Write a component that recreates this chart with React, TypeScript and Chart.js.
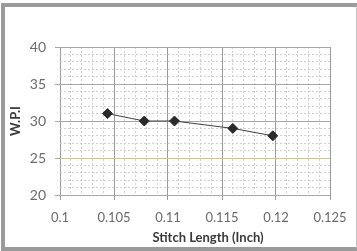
import React, { useEffect, useRef } from "react";
import { Chart, registerables } from "chart.js";

Chart.register(...registerables);

const stitchLength = [0.1044, 0.1078, 0.1106, 0.116, 0.1197];
const wpi = [31, 30, 30, 29, 28];
const X_MIN = 0.1;
const X_MAX = 0.125;
const Y_MIN = 20;
const Y_MAX = 40;
const X_TITLE = "Stitch Length (Inch)";
const Y_TITLE = "W.P.I";

const FONT = "Lato, 'Open Sans', sans-serif";

const isMajorX = (v: number) => Math.round(v * 1000) % 5 === 0;
const isMajorY = (v: number) => Math.round(v) % 5 === 0;

const xTitlePlugin = {
  id: "xTitle",
  afterDraw(chart: any) {
    const { ctx, chartArea } = chart;
    ctx.save();
    ctx.fillStyle = "#3a3a3a";
    ctx.font = `bold 13px ${FONT}`;
    ctx.textAlign = "center";
    ctx.textBaseline = "middle";
    ctx.fillText(X_TITLE, (chartArea.left + chartArea.right) / 2 + 13, chartArea.bottom + 43);
    ctx.restore();
  },
};

export default function App() {
  const ref = useRef<HTMLCanvasElement | null>(null);
  useEffect(() => {
    if (!ref.current) return;
    const chart = new Chart(ref.current, {
      type: "line",
      data: {
        datasets: [
          {
            data: stitchLength.map((x, i) => ({ x, y: wpi[i] })),
            borderColor: "#404040",
            borderWidth: 1,
            backgroundColor: "#2a2a2a",
            pointBackgroundColor: "#2a2a2a",
            pointBorderColor: "#2a2a2a",
            pointStyle: "rectRot",
            pointRadius: 5,
            tension: 0,
          },
        ],
      },
      options: {
        animation: false,
        responsive: false,
        maintainAspectRatio: false,
        layout: { padding: { top: 47, right: 27, left: 0, bottom: 0 } },
        plugins: { legend: { display: false }, tooltip: { enabled: false } },
        scales: {
          x: {
            type: "linear",
            min: X_MIN,
            max: X_MAX,
            afterFit: (s: any) => {
              s.height = 56;
            },
            ticks: {
              stepSize: 0.001,
              autoSkip: false,
              maxRotation: 0,
              padding: 10,
              color: "#6a6a6a",
              font: { family: FONT, size: 13 },
              callback: (v: any) => (isMajorX(v) ? String(+Number(v).toFixed(3)) : ""),
            },
            grid: {
              color: (c: any) => (isMajorX(c.tick.value) ? "#9a9a9a" : "#cfcfcf"),
              tickColor: (c: any) => (isMajorX(c.tick.value) ? "#9a9a9a" : "rgba(0,0,0,0)"),
              tickLength: 5,
              lineWidth: 1,
            },
            border: {
              display: false,
              dash: (c: any) => (c.tick && isMajorX(c.tick.value) ? [] : [2, 2]),
            },
          },
          y: {
            min: Y_MIN,
            max: Y_MAX,
            afterFit: (s: any) => {
              s.width = 60;
            },
            ticks: {
              stepSize: 1,
              autoSkip: false,
              padding: 9,
              color: "#6a6a6a",
              font: { family: FONT, size: 14 },
              callback: (v: any) => (isMajorY(v) ? String(Math.round(v)) : ""),
            },
            grid: {
              color: (c: any) =>
                Math.round(c.tick.value) === 25
                  ? "#cdc4a2"
                  : isMajorY(c.tick.value)
                  ? "#a8a8a8"
                  : "#cfcfcf",
              tickColor: (c: any) => (isMajorY(c.tick.value) ? "#a8a8a8" : "rgba(0,0,0,0)"),
              tickLength: 5,
              lineWidth: 1,
            },
            border: {
              display: false,
              dash: (c: any) => (c.tick && isMajorY(c.tick.value) ? [] : [2, 2]),
            },
            title: {
              display: true,
              text: Y_TITLE,
              color: "#3a3a3a",
              font: { family: FONT, size: 13, weight: "bold" },
              padding: { top: 8, bottom: 0 },
            },
          },
        },
      },
      plugins: [xTitlePlugin],
    });
    return () => chart.destroy();
  }, []);

  return (
    <div style={{ position: "absolute", left: 0, top: 0, width: 357, height: 251, background: "#fff" }}>
      <canvas ref={ref} width={357} height={251} style={{ position: "absolute", left: 0, top: 0 }} />
      <div
        style={{
          position: "absolute",
          left: 1,
          top: 3,
          width: 351,
          height: 240,
          borderLeft: "4px solid #9a9a9a",
          borderTop: "4px solid #9a9a9a",
          borderBottom: "4px solid #9a9a9a",
          borderRight: "2px solid #c4c4c4",
          pointerEvents: "none",
        }}
      />
    </div>
  );
}
